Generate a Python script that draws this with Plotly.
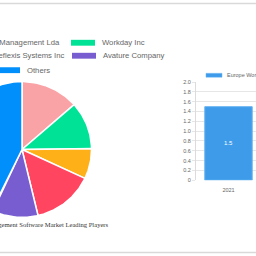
import numpy as np
import plotly.graph_objects as go

# ---------------- data ----------------
pie_labels = ["Sisqual Workforce Management Lda", "Workday Inc", "Reflexis Systems Inc",
              "UKG Inc", "Avature Company", "Others"]
pie_values = [13.5, 11.3, 7.2, 14.3, 10.6, 43.1]
pie_colors = ["#f9a3a6", "#00e396", "#feb019", "#ff4560", "#775dd0", "#008ffb"]

bar_categories = ["2021"]
bar_values = [1.5]
bar_series_name = "Europe Workforce Management Software Market"
y_tick_vals = [0, 0.2, 0.4, 0.6, 0.8, 1.0, 1.2, 1.4, 1.6, 1.8, 2.0]
y_tick_text = ["0", "0.2", "0.4", "0.6", "0.8", "1.0", "1.2", "1.4", "1.6", "1.8", "2.0"]
pie_title = "Europe Workforce Management Software Market Leading Players"

W = H = 256
def px(x): return x / W
def py(y): return 1 - y / H

fig = go.Figure()

# ---------------- pie (drawn as wedges in a pixel-scaled subplot) ----------------
cx, cy, r = 22, 150, 69.5
total = sum(pie_values)
start = 0.0
for lab, val, col in zip(pie_labels, pie_values, pie_colors):
    a0 = start / total * 2 * np.pi
    a1 = (start + val) / total * 2 * np.pi
    t = np.linspace(a0, a1, max(int(np.degrees(a1 - a0)), 2) + 1)
    xs = np.concatenate([[cx], cx + r * np.sin(t), [cx]])
    ys = np.concatenate([[cy], cy - r * np.cos(t), [cy]])
    fig.add_trace(go.Scatter(x=xs, y=ys, mode="lines", fill="toself", fillcolor=col,
                             line=dict(color="white", width=1.5), name=lab,
                             hoverinfo="skip", showlegend=False, xaxis="x", yaxis="y"))
    start += val

# ---------------- bar ----------------
fig.add_trace(go.Bar(x=bar_categories, y=bar_values, name=bar_series_name,
                     marker=dict(color="#3d9bea", line=dict(color="#6ab5f2", width=1)),
                     width=0.73, text=[f"{v}" for v in bar_values], textposition="inside",
                     insidetextanchor="middle",
                     textfont=dict(color="white", size=6, family="Liberation Sans, Arial"),
                     showlegend=False, xaxis="x2", yaxis="y2", hoverinfo="skip"))

shapes = []
annotations = []
lfont = dict(family="Liberation Sans, Arial", size=7.7, color="#666")

# pie legend (swatch, label) — rows as in the reference
legend_items = [
    # (label index, swatch x0, row y, text x, anchor)
    (0, -34, 40.7, 62, "right"),
    (1, 71, 40.7, 100, "left"),
    (2, -34, 54, 65.5, "right"),
    (4, 72, 54, 101, "left"),
    (5, -4, 68.8, 25, "left"),
]
for idx, sx, ry, tx, anc in legend_items:
    shapes.append(dict(type="rect", xref="paper", yref="paper",
                       x0=px(sx), x1=px(sx + 24), y0=py(ry - 3), y1=py(ry + 3),
                       fillcolor=pie_colors[idx], line=dict(width=0)))
    annotations.append(dict(text=pie_labels[idx], xref="paper", yref="paper",
                            x=px(tx), y=py(ry), xanchor=anc, yanchor="middle",
                            showarrow=False, font=lfont))

annotations.append(dict(text=pie_title, xref="paper", yref="paper", x=px(110.7), y=py(227),
                        xanchor="right", yanchor="middle", showarrow=False,
                        font=dict(family="Liberation Serif, Times New Roman", size=6.6, color="#333")))

# bar legend
shapes.append(dict(type="rect", xref="paper", yref="paper", x0=px(206), x1=px(222),
                   y0=py(72), y1=py(76), fillcolor="#3d9bea", line=dict(color="#6ab5f2", width=0.5)))
annotations.append(dict(text=bar_series_name, xref="paper", yref="paper", x=px(225), y=py(74),
                        xanchor="left", yanchor="middle", showarrow=False,
                        font=dict(family="Liberation Sans, Arial", size=5.5, color="#666")))

# page border lines
shapes.append(dict(type="line", xref="paper", yref="paper", x0=0, x1=1, y0=py(0.5), y1=py(0.5),
                   line=dict(color="#d9d9d9", width=1.5)))
shapes.append(dict(type="line", xref="paper", yref="paper", x0=0, x1=1, y0=py(255.5), y1=py(255.5),
                   line=dict(color="#d9d9d9", width=1.5)))

fig.update_layout(
    width=W, height=H, margin=dict(l=0, r=0, t=0, b=0),
    paper_bgcolor="white", plot_bgcolor="rgba(0,0,0,0)",
    showlegend=False, shapes=shapes, annotations=annotations,
    xaxis=dict(domain=[0, 0.5], range=[0, 128], visible=False, fixedrange=True),
    yaxis=dict(domain=[0, 1], range=[256, 0], visible=False, fixedrange=True),
    xaxis2=dict(domain=[px(196), 1], range=[-0.5, 0.423], type="category", anchor="y2",
                showgrid=False, showline=False, ticks="outside", ticklen=4, tickcolor="rgba(0,0,0,0)",
                tickfont=dict(family="Liberation Sans, Arial", size=5.5, color="#666")),
    yaxis2=dict(domain=[py(181.5), py(81)], range=[0, 2], anchor="x2",
                tickvals=y_tick_vals, ticktext=y_tick_text, showgrid=True, gridcolor="#e6e6e6",
                gridwidth=1, zeroline=False, showline=True, linecolor="#dcdcdc", linewidth=1,
                ticks="outside", ticklen=3, tickcolor="#e6e6e6",
                tickfont=dict(family="Liberation Sans, Arial", size=5.5, color="#666")),
)

fig.write_html("out.html")
